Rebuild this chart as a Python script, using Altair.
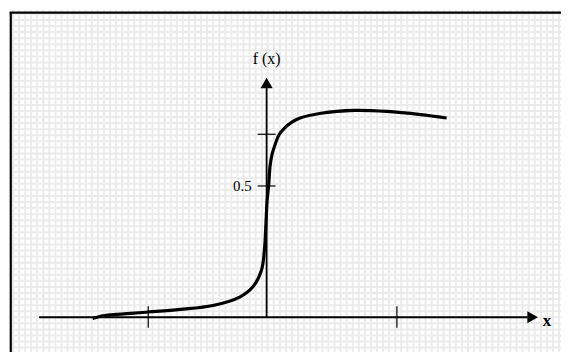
import altair as alt
import pandas as pd

# ---- data (math units: x tick ~ +-1, y tick 0.5) ----
curve_x = [-1.400, -1.336, -1.232, -0.952, -0.696, -0.432, -0.216, -0.112, -0.042,
           -0.016, -0.008, 0.004, 0.016, 0.028, 0.044, 0.072, 0.100, 0.144,
           0.200, 0.264, 0.438, 0.704, 0.968, 1.238, 1.448]
curve_y = [-0.005, 0.004, 0.010, 0.020, 0.030, 0.045, 0.077, 0.115, 0.178,
           0.266, 0.330, 0.443, 0.500, 0.576, 0.621, 0.663, 0.695, 0.720,
           0.742, 0.758, 0.777, 0.788, 0.784, 0.772, 0.759]

x_tick_values = [-0.952, 1.048]
y_tick_values = [0.5, 0.697]
y_tick_labels = ["0.5", ""]

x_axis_label = "x"
y_axis_label = "f (x)"

# ---- scale setup (pixel geometry) ----
W, H = 555, 344
X_ORIGIN_PX, X_UNIT_PX = 267 - 8, 125.0     # inside plot area
Y_ORIGIN_PX, Y_UNIT_PX = 317 - 8, 264.0
x_dom = [(0 - X_ORIGIN_PX) / X_UNIT_PX, (W - X_ORIGIN_PX) / X_UNIT_PX]
y_dom = [(Y_ORIGIN_PX - H) / Y_UNIT_PX, (Y_ORIGIN_PX - 0) / Y_UNIT_PX]

# graph-paper background grid positions
PITCH = 6.1
gx = [(4 + PITCH * k - X_ORIGIN_PX) / X_UNIT_PX for k in range(int(W / PITCH) + 1)]
gy = [(Y_ORIGIN_PX - (4 + PITCH * k)) / Y_UNIT_PX for k in range(int(H / PITCH) + 1)]

xs = alt.Scale(domain=x_dom, nice=False, zero=False)
ys = alt.Scale(domain=y_dom, nice=False, zero=False)

def X(field):
    return alt.X(field, scale=xs, axis=None)

def Y(field):
    return alt.Y(field, scale=ys, axis=None)

grid_v = alt.Chart(pd.DataFrame({"x": gx})).mark_rule(color="#ebebeb", strokeWidth=2).encode(
    x=X("x:Q"))
grid_h = alt.Chart(pd.DataFrame({"y": gy})).mark_rule(color="#ebebeb", strokeWidth=2).encode(
    y=Y("y:Q"))

curve_df = pd.DataFrame({"x": curve_x, "y": curve_y})
curve = alt.Chart(curve_df).mark_line(color="black", strokeWidth=3.2,
                                      interpolate="catmull-rom", clip=True).encode(
    x=X("x:Q"), y=Y("y:Q"),
)

# axes lines
axes_df = pd.DataFrame({
    "x": [-1.83, 0.0], "x2": [2.10, 0.0],
    "y": [0.0, 0.0], "y2": [0.0, 0.88],
})
axes_lines = alt.Chart(axes_df).mark_rule(color="black", strokeWidth=1.8).encode(
    x=X("x:Q"), x2="x2:Q", y=Y("y:Q"), y2="y2:Q",
)

# tick marks
xt_df = pd.DataFrame({"x": x_tick_values, "y": [-0.04] * 2, "y2": [0.042] * 2})
x_tick_marks = alt.Chart(xt_df).mark_rule(color="black", strokeWidth=1.2).encode(
    x=X("x:Q"), y=Y("y:Q"), y2="y2:Q",
)
yt_df = pd.DataFrame({"y": y_tick_values, "x": [-0.072] * 2, "x2": [0.072] * 2,
                      "label": y_tick_labels})
y_tick_marks = alt.Chart(yt_df).mark_rule(color="black", strokeWidth=1.2).encode(
    y=Y("y:Q"), x=X("x:Q"), x2="x2:Q",
)
y_tick_text = alt.Chart(yt_df).mark_text(align="right", baseline="middle", dx=-6,
                                         font="Liberation Serif", fontSize=15,
                                         color="black").encode(
    x=X("x:Q"), y=Y("y:Q"), text="label:N",
)

# arrowheads
arrow_df = pd.DataFrame({"x": [0.0, 2.14], "y": [0.892, 0.0],
                         "shape": ["triangle-up", "triangle-right"]})
arrows = alt.Chart(arrow_df).mark_point(filled=True, color="black", opacity=1,
                                        size=150).encode(
    x=X("x:Q"), y=Y("y:Q"),
    shape=alt.Shape("shape:N", scale=None),
)

# axis titles
lab_df = pd.DataFrame({"x": [0.0], "y": [0.985], "t": [y_axis_label]})
y_title = alt.Chart(lab_df).mark_text(font="Liberation Serif", fontSize=16,
                                      color="black", baseline="middle").encode(
    x=X("x:Q"), y=Y("y:Q"), text="t:N")
xl_df = pd.DataFrame({"x": [2.256], "y": [-0.015], "t": [x_axis_label]})
x_title = alt.Chart(xl_df).mark_text(font="Liberation Serif", fontSize=17,
                                     fontWeight="bold", color="black",
                                     baseline="middle").encode(
    x=X("x:Q"), y=Y("y:Q"), text="t:N")

# frame (left & top border)
frame_left = alt.Chart(pd.DataFrame({"a": [0]})).mark_rule(color="black", strokeWidth=2.2).encode(
    x=alt.value(1.8), y=alt.value(2.0), y2=alt.value(H))
frame_top = alt.Chart(pd.DataFrame({"a": [0]})).mark_rule(color="black", strokeWidth=2.2).encode(
    x=alt.value(0.7), x2=alt.value(W), y=alt.value(2.8))

chart = alt.layer(
    grid_v, grid_h, curve, axes_lines, x_tick_marks, y_tick_marks, y_tick_text,
    arrows, y_title, x_title, frame_left, frame_top,
).properties(width=W, height=H, padding=0, background="white").configure_view(
    stroke=None
)

chart.save("out.html", embed_options={"renderer": "svg", "actions": False})
